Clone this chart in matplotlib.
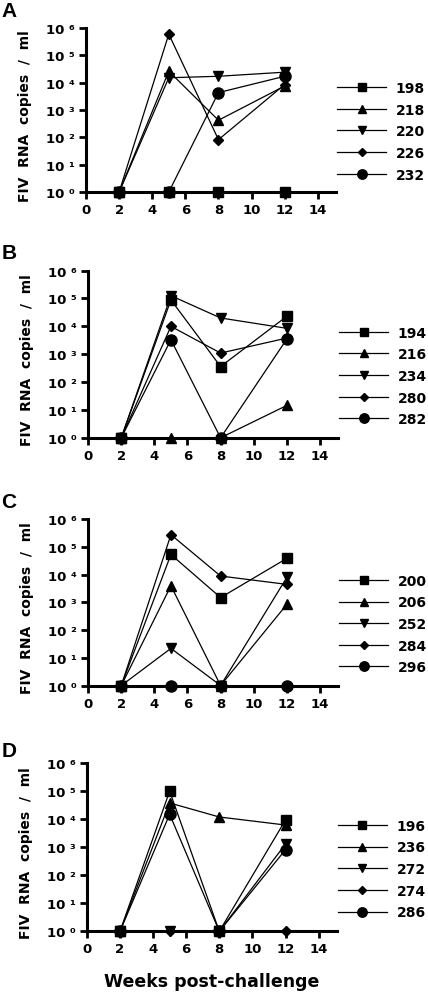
import matplotlib
matplotlib.use("Agg")
import math
import matplotlib.pyplot as plt
from matplotlib.ticker import FixedLocator, FuncFormatter

plt.rcParams['font.family'] = ['DejaVu Sans']
plt.rcParams['font.weight'] = 'bold'

weeks = [2, 5, 8, 12]

# FIV RNA copies / ml, one row per cat
cats_a = ['198', '218', '220', '226', '232']
vals_a = [[1, 1, 1, 1],
          [1, 2.6e4, 420, 7.5e3],
          [1, 1.5e4, 1.7e4, 2.4e4],
          [1, 5.9e5, 82, 8.5e3],
          [1, 1, 4.3e3, 1.7e4]]

cats_b = ['194', '216', '234', '280', '282']
vals_b = [[1, 8.9e4, 360, 2.3e4],
          [1, 1, 1, 14.5],
          [1, 1.26e5, 2.0e4, 8.5e3],
          [1, 1.0e4, 1.1e3, 3.8e3],
          [1, 3.3e3, 1, 3.5e3]]

cats_c = ['200', '206', '252', '284', '296']
vals_c = [[1, 5.4e4, 1.5e3, 3.9e4],
          [1, 4.0e3, 1, 850],
          [1, 22, 1, 8.0e3],
          [1, 2.8e5, 9.0e3, 4.5e3],
          [1, 1, 1, 1]]

cats_d = ['196', '236', '272', '274', '286']
vals_d = [[1, 1.0e5, 1, 9.4e3],
          [1, 3.8e4, 1.2e4, 6.2e3],
          [1, 1, 1, 1.3e3],
          [1, 1, 1, 1],
          [1, 1.5e4, 1, 820]]

panel_letters = ['A', 'B', 'C', 'D']

markers = ['s', '^', 'v', 'D', 'o']
msizes = [7, 7.5, 7.5, 5, 8]


def sup(v, pos):
    digits = '⁰¹²³⁴⁵⁶⁷⁸⁹'
    e = int(round(math.log10(v)))
    return '10 ' + digits[e]


def draw_panel(fig, rect, cats, vals, letter, letter_y, last=False):
    ax = fig.add_axes(rect)
    for c, v, m, ms in zip(cats, vals, markers, msizes):
        ax.plot(weeks, v, color='black', lw=0.9, marker=m, ms=ms,
                mfc='black', mec='black', clip_on=False, label=c, zorder=3)
    ax.set_yscale('log')
    ax.set_ylim(1, 1e6)
    ax.set_xlim(0, 15.1)
    ax.set_xticks(range(0, 15, 2))
    ax.yaxis.set_major_locator(FixedLocator([10 ** i for i in range(7)]))
    ax.yaxis.set_minor_locator(FixedLocator([]))
    ax.yaxis.set_major_formatter(FuncFormatter(sup))
    for s in ['top', 'right']:
        ax.spines[s].set_visible(False)
    for s in ['left', 'bottom']:
        ax.spines[s].set_linewidth(2.2)
    ax.tick_params(width=2, length=5, labelsize=9.5, pad=3)
    ax.set_ylabel('FIV  RNA  copies  /  ml', fontsize=10, fontweight='bold')
    ax.yaxis.set_label_coords(-0.215, 0.47)
    leg = ax.legend(loc='center left', bbox_to_anchor=(1.005, 0.37),
                    frameon=False, fontsize=10, handlelength=3.5,
                    handletextpad=0.7, borderpad=0, borderaxespad=0,
                    labelspacing=0.55, markerscale=0.85)
    for t in leg.get_texts():
        t.set_fontweight('bold')
    fig.text(0.003, letter_y, letter, fontsize=15, fontweight='bold',
             family='Liberation Sans', va='top', ha='left')
    if last:
        ax.set_xlabel('Weeks post-challenge', fontsize=12.5,
                      fontweight='bold', labelpad=12)
    return ax


def main():
    fig = plt.figure(figsize=(4.28, 9.95), dpi=100)
    rects = [[0.201, 0.806, 0.584, 0.165],
             [0.206, 0.559, 0.584, 0.168],
             [0.206, 0.310, 0.584, 0.167],
             [0.203, 0.063, 0.584, 0.169]]
    letter_ys = [0.998, 0.755, 0.505, 0.254]
    all_cats = [cats_a, cats_b, cats_c, cats_d]
    all_vals = [vals_a, vals_b, vals_c, vals_d]
    for i in range(4):
        draw_panel(fig, rects[i], all_cats[i], all_vals[i],
                   panel_letters[i], letter_ys[i], last=(i == 3))
    fig.savefig('out.png', dpi=100)


if __name__ == "__main__":
    main()
